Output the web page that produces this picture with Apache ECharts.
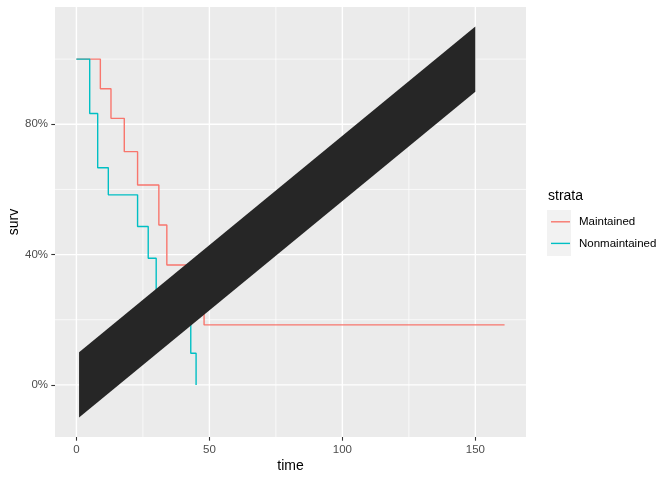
<!DOCTYPE html>
<html>
<head>
<meta charset="utf-8">
<script src="https://cdn.jsdelivr.net/npm/echarts@6/dist/echarts.min.js"></script>
<style>
  html, body { margin: 0; padding: 0; background: #ffffff; }
  #main { width: 672px; height: 480px; }
</style>
</head>
<body>
<div id="main"></div>
<script>
// survival curves (aml data), step after each time
var timeM = [0, 9, 13, 18, 23, 28, 31, 34, 45, 48, 161];
var survM = [1, 0.9091, 0.8182, 0.7159, 0.6136, 0.6136, 0.4909, 0.3682, 0.3682, 0.1841, 0.1841];
var timeN = [0, 5, 8, 12, 16, 23, 27, 30, 33, 43, 45];
var survN = [1, 0.8333, 0.6667, 0.5833, 0.5833, 0.4861, 0.3889, 0.2917, 0.1944, 0.0972, 0];

// the black band on top
var bandX = [1, 150, 150, 1];
var bandY = [0.1, 1.1, 0.9, -0.1];

// axis ticks / grid
var xTicks = [0, 50, 100, 150];
var xMinor = [25, 75, 125];
var yTicks = [0, 0.4, 0.8];
var yMinor = [0.2, 0.6, 1.0];

var strata = ['Maintained', 'Nonmaintained'];
var colors = ['#F8766D', '#00BFC4'];

function pairs(xs, ys) {
  return xs.map(function (x, i) { return [x, ys[i]]; });
}

// grid lines as [axis, value, width]
var gridLines = [];
xTicks.forEach(function (v) { gridLines.push([0, v, 1.4]); });
xMinor.forEach(function (v) { gridLines.push([0, v, 0.7]); });
yTicks.forEach(function (v) { gridLines.push([1, v, 1.4]); });
yMinor.forEach(function (v) { gridLines.push([1, v, 0.7]); });

var chart = echarts.init(document.getElementById('main'), null, { renderer: 'canvas' });

var font = 'Liberation Sans, Arial, Helvetica, sans-serif';
var xMin = -8.05, xMax = 169.05, yMin = -0.16, yMax = 1.16;

var option = {
  animation: false,
  backgroundColor: '#ffffff',
  textStyle: { fontFamily: font },
  title: {
    text: 'strata',
    left: 548,
    top: 189,
    padding: 0,
    textStyle: { fontSize: 14, fontWeight: 'normal', color: '#000000', fontFamily: font }
  },
  legend: {
    data: strata,
    orient: 'vertical',
    left: 551,
    top: 211,
    padding: 0,
    itemGap: 0,
    itemWidth: 19,
    itemHeight: 1.4,
    icon: 'rect',
    textStyle: { fontSize: 11.5, color: '#000000', lineHeight: 21.6, padding: [0, 0, 0, 4], fontFamily: font }
  },
  graphic: [{
    type: 'rect',
    z: -1,
    shape: { x: 547, y: 210, width: 24, height: 46 },
    style: { fill: '#F2F2F2' }
  }],
  grid: {
    left: 55,
    right: 146,
    top: 7,
    bottom: 43,
    containLabel: false,
    outerBoundsMode: 'none',
    show: true,
    backgroundColor: '#EBEBEB',
    borderWidth: 0
  },
  xAxis: {
    type: 'value',
    min: xMin,
    max: xMax,
    name: 'time',
    nameLocation: 'middle',
    nameGap: 22,
    nameMoveOverlap: false,
    nameTextStyle: { fontSize: 14, color: '#000000' },
    axisLine: { show: false, onZero: false },
    axisTick: { show: true, length: 3.7, customValues: xTicks, lineStyle: { color: '#333333', width: 1.1 } },
    axisLabel: { customValues: xTicks, margin: 6.5, fontSize: 11.5, color: '#4D4D4D' },
    splitLine: { show: false }
  },
  yAxis: {
    type: 'value',
    min: yMin,
    max: yMax,
    name: 'surv',
    nameLocation: 'middle',
    nameGap: 34,
    nameMoveOverlap: false,
    nameTextStyle: { fontSize: 14, color: '#000000' },
    axisLine: { show: false, onZero: false },
    axisTick: { show: true, length: 3.7, customValues: yTicks, lineStyle: { color: '#333333', width: 1.1 } },
    axisLabel: {
      customValues: yTicks,
      margin: 7,
      fontSize: 11.5,
      color: '#4D4D4D',
      formatter: function (v) { return Math.round(v * 100) + '%'; }
    },
    splitLine: { show: false }
  },
  series: [
    {
      name: 'grid',
      type: 'custom',
      data: gridLines,
      silent: true,
      z: 1,
      renderItem: function (params, api) {
        var d = gridLines[params.dataIndex];
        var p1, p2;
        if (d[0] === 0) {
          p1 = api.coord([d[1], yMin]); p2 = api.coord([d[1], yMax]);
        } else {
          p1 = api.coord([xMin, d[1]]); p2 = api.coord([xMax, d[1]]);
        }
        return {
          type: 'line',
          shape: { x1: p1[0], y1: p1[1], x2: p2[0], y2: p2[1] },
          style: { stroke: '#ffffff', lineWidth: d[2] }
        };
      }
    },
    {
      name: strata[0],
      type: 'line',
      step: 'end',
      data: pairs(timeM, survM),
      showSymbol: false,
      color: colors[0],
      lineStyle: { width: 1.4, color: colors[0] },
      z: 2
    },
    {
      name: strata[1],
      type: 'line',
      step: 'end',
      data: pairs(timeN, survN),
      showSymbol: false,
      color: colors[1],
      lineStyle: { width: 1.4, color: colors[1] },
      z: 3
    },
    {
      name: 'band',
      type: 'custom',
      data: pairs(bandX, bandY),
      z: 4,
      silent: true,
      renderItem: function (params, api) {
        if (params.dataIndex !== 0) return null;
        var pts = bandX.map(function (x, i) { return api.coord([x, bandY[i]]); });
        return {
          type: 'polygon',
          shape: { points: pts },
          style: { fill: '#262626' }
        };
      }
    }
  ]
};

chart.setOption(option);
</script>
</body>
</html>
